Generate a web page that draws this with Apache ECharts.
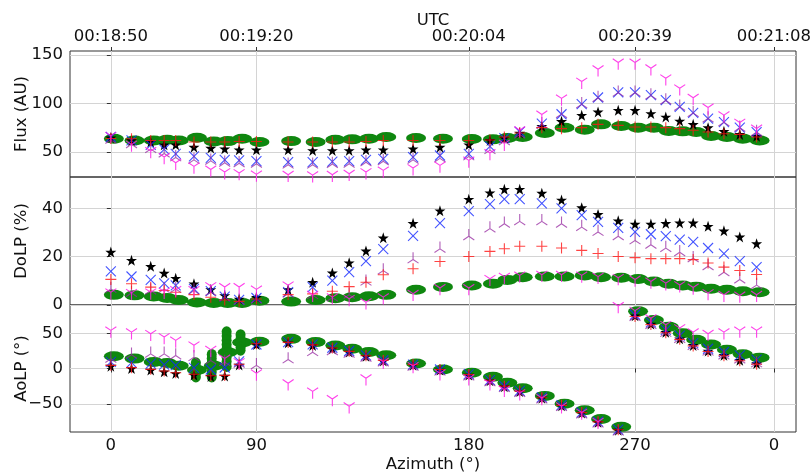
<!DOCTYPE html>
<html>
<head>
<meta charset="utf-8">
<title>Flux / DoLP / AoLP</title>
<script src="https://cdn.jsdelivr.net/npm/echarts@6/dist/echarts.min.js"></script>
<style>
  html, body { margin: 0; padding: 0; background: #fff; }
  #main { width: 811px; height: 472px; }
</style>
</head>
<body>
<div id="main"></div>
<script>
// time of each measurement, seconds after 00:18:50 UTC
var timeS = [0, 4.3, 8.3, 11.1, 13.5, 17.3, 20.8, 23.7, 26.7, 30.3, 36.9, 42.0, 46.1, 49.6, 53.1, 56.7, 62.9, 68.5,
             74.5, 78.9, 81.9, 85.1, 89.7, 93.8, 98.0, 101.4, 105.6, 109.1, 112.4, 115.5, 118.4, 121.2, 124.3, 127.6, 130.9, 134.4];

// tick positions (s) and their labels
var tickT = [0, 30.3, 74.5, 109.1, 138];
var azLabels = ['0', '90', '180', '270', '0'];
var utcLabels = ['00:18:50', '00:19:20', '00:20:04', '00:20:39', '00:21:08'];

// Flux (AU)
var fluxStar = [64.9, 62.1, 60.4, 57.6, 57.6, 55.2, 54.2, 53.5, 52.5, 52.5, 52.5, 51.8, 51.8, 51.8, 52.5, 52.5, 53.5, 55.2,
                57.6, 62.1, 64.5, 69.7, 76.6, 81.7, 87.9, 91.4, 93.1, 93.1, 89.7, 86.2, 82.1, 78.6, 75.2, 71.4, 68.3, 66.3];
var fluxX = [65.6, 62.1, 57.6, 52.8, 48.3, 45.6, 44.2, 42.1, 41.5, 40.8, 39.7, 39.7, 40.4, 40.8, 42.1, 43.2, 44.9, 46.6,
             48.3, 56, 64.5, 71, 79.3, 89, 99.3, 106.2, 111.4, 111.4, 108.6, 103.4, 96.6, 90.4, 84.5, 81, 75.2, 70.7];
var fluxTriUp = [64.5, 60, 55, 50.5, 46.5, 44, 43, 41, 40.5, 40, 39, 39, 39.7, 40, 41.5, 42.5, 44, 45.5,
                 47.5, 54, 63, 70, 80.5, 91, 101, 107.5, 113, 113, 110, 105, 98.5, 92, 86.5, 82.5, 77, 72.5];
var fluxTriDown = [65, 56, 49.4, 43.2, 37.3, 33.5, 30.4, 27.7, 26.7, 25.3, 25, 24.5, 25, 26, 27.7, 29.4, 31.8, 34.6,
                   39.7, 47.3, 57, 70.7, 86.9, 103.4, 120.7, 133.4, 140.3, 140.3, 134.4, 124.1, 113.8, 104.1, 94.1, 86.2, 78.6, 72.5];
var fluxRed = [64, 63.8, 62, 62, 62, 60.4, 60.4, 60.4, 61, 61, 60.4, 60.4, 60.4, 60.4, 61, 62, 62, 62,
               62, 62.5, 65.6, 69.7, 75.2, 74.2, 75.2, 78.6, 77.6, 75.9, 75.9, 75.2, 74.2, 72.5, 70.7, 69, 68.3, 65.6];
var fluxGreen = [63.8, 62, 62, 62.8, 62, 64.9, 61, 61.4, 63.8, 60.4, 61.4, 60.4, 62.8, 63.2, 63.8, 65.6, 64.5, 63.8,
                 63.5, 63.2, 64.5, 65.6, 69.7, 75.2, 73.1, 78.6, 76.9, 75.2, 75.2, 71.8, 71.4, 70.7, 66.6, 65.6, 63.8, 62];

// DoLP (%)
var dolpStar = [21.9, 18.5, 16, 13.2, 11.1, 8.8, 6.4, 3.9, 2.5, 3.2, 6.4, 9.4, 13.3, 17.5, 22.4, 27.8, 33.8, 39,
                43.8, 46.5, 47.9, 47.9, 46.3, 43.5, 40.3, 37.5, 34.9, 33.5, 33.5, 33.8, 34, 34, 32.6, 30.7, 28.2, 25.4];
var dolpX = [13.9, 11.8, 10.4, 9, 8.1, 6.7, 5.7, 3.5, 2.1, 2.9, 5.3, 7.4, 10.1, 13.6, 18.2, 23.1, 28.6, 33.9,
             38.9, 41.8, 43.8, 43.8, 42.1, 40, 37.2, 34.4, 31.9, 30.3, 29.3, 28.5, 27.1, 26.1, 23.6, 21.3, 18.2, 15.7];
var dolpTriUp = [7.4, 5.7, 6.7, 7.4, 7.4, 6.7, 6.2, 3.9, 2.5, 3, 5.5, 4.8, 3.8, 5, 10.4, 15, 19.6, 24,
                 29.2, 32.4, 34.4, 35.4, 35.4, 34.4, 33, 31, 29.2, 27.5, 25.7, 24.3, 22.6, 20.1, 16.8, 14.3, 11.3, 9];
var dolpTriDown = [4.5, 4.3, 4.5, 4.8, 5.5, 5.5, 7.1, 6.7, 6.7, 5.7, 7.4, 3.5, 2.5, 1.8, 0.4, 2.5, 3.9, 6.3,
                   6.3, 10.1, 11, 11.5, 11.8, 11.8, 11.5, 11, 10.5, 9.8, 9, 8.3, 7.5, 6.5, 4.2, 3.5, 3.2, 3.5];
var dolpRed = [10.6, 8.8, 7.4, 6, 5.3, 4.3, 3.2, 2.1, 1.5, 2.5, 4.3, 4.6, 5.7, 7.6, 9.4, 12.5, 15, 18,
               20.1, 22.2, 23.3, 24.3, 24.3, 23.6, 22.6, 21.3, 20.1, 19.6, 19.2, 19.2, 19.2, 18.8, 17.4, 15.7, 14.3, 12.6];
var dolpGreen = [4.2, 4, 3.5, 2.9, 2.1, 1, 0.8, 0.8, 0.8, 1.8, 1.4, 2.1, 2.8, 3.2, 3.6, 4.2, 6.3, 7.5,
                 8.1, 8.8, 10.4, 11.5, 11.8, 11.8, 12.2, 11.5, 11.3, 10.8, 9.7, 8.8, 8.1, 7.6, 6.7, 6.3, 5.7, 5.3];

// AoLP (°)
var aolpStar = [3.3, 0, -2.3, -4.7, -7, -9.3, -11.2, -10.8, 5, 34, 36.4, 32.7, 28, 23.4, 17.3, 10.7, 4.7, -2.3,
                -9.3, -17.3, -25.7, -32.7, -42, -52.8, -63.1, -76.2, -87.4, 74.8, 63, 51.4, 42, 32.7, 24.8, 18.7, 11.7, 7];
var aolpX = [9.3, 8.4, 7, 5.6, 4.7, 0.9, -1.4, 1.4, 10, 34, 37.4, 34.1, 29.4, 24.8, 18.7, 11.7, 5.6, -1.4,
             -7.9, -16.4, -24.8, -31.8, -41, -51.8, -62.1, -75.2, -86.5, 76.2, 65.4, 54.7, 46.7, 36, 28, 23.4, 18.7, 12.6];
var aolpTriUp = [16.4, 22, 23.3, 23.3, 21, 18.6, 14, 11.6, 9.3, 7, 15.4, 25.7, 27, 23.5, 17.8, 11, 5, -2,
                 -8.8, -17, -25.3, -32.3, -41.5, -52.3, -62.6, -75.7, -87, 75.5, 64.2, 53, 44.3, 34.3, 26.4, 21, 15.2, 9.8];
var aolpTriDown = [51.4, 49, 46.6, 42, 37.3, 30.3, 24.2, 11.6, 6.5, -9.4, -23.4, -35, -45.8, -56, -16.4, 7, 1, -9.3,
                   -16.4, -23.4, -32.7, -37.4, -44.4, -56, -65, -78, 86, 79.4, 68.7, 59.3, 54.7, 49, 46.7, 49, 51.4, 51.4];
var aolpRed = [4.5, 1.2, -1.2, -3.6, -6, -8.2, -10.3, -9.8, 6, 35, 37, 33.5, 29, 24.3, 18, 11.5, 5.5, -1.5,
               -8.5, -16.6, -25, -32, -41.4, -52.2, -62.5, -75.6, -86.8, 73.8, 62.2, 50.6, 41.3, 32, 24, 18, 11, 6.2];
var aolpGreen = [17.3, 14, 9.3, 7.9, 4, -2, 4, 23, 37, 38, 42, 37.4, 32.7, 28, 23.4, 18.7, 7, -1.4,
                 -6, -11.7, -20.1, -28, -38.8, -50, -59.3, -71.5, -82.7, 81, 68.7, 59.3, 50, 40.7, 34.1, 26.6, 20.1, 15.4];
// the green AoLP readings spread vertically around 90°
var aolpGreenSpreadT = [17.7, 17.7, 17.7, 17.7, 21.0, 21.0, 21.0, 21.0, 21.0, 21.0, 24.1, 24.1, 24.1, 24.1, 24.1, 24.1, 24.1, 24.1, 24.1, 27.0, 27.0, 27.0, 27.0, 27.0];
var aolpGreenSpreadV = [8, 2, -6, -12, 20, 14, 8, 2, -5, -12, 52, 46, 40, 34, 28, 22, 16, 10, 3, 48, 42, 36, 30, 26];

var XMIN = -8.5, XMAX = 142.6;
var FONT = 'DejaVu Sans';
var FS = 16.5;
var GREEN = '#0f870f';

var STAR = 'path://M50,0 L61.8,35.3 L99,35.3 L69,57.2 L80.4,92.7 L50,70.8 L19.6,92.7 L31,57.2 L1,35.3 L38.2,35.3 Z';
var CROSS = 'path://M0,0 L10,10 M10,0 L0,10';
var PLUS = 'path://M5,0 L5,10 M0,5 L10,5';
var TRI_DOWN = 'path://M5,5 L5,10 M5,5 L0.67,2.5 M5,5 L9.33,2.5';
var TRI_UP = 'path://M5,5 L5,0 M5,5 L0.67,7.5 M5,5 L9.33,7.5';
var BLOB = 'path://M0,5 A10,5 0 1 1 20,5 A10,5 0 1 1 0,5 Z';

function pts(vals) {
  return timeS.map(function (t, k) { return [t, vals[k]]; });
}
function minus(v) { return String(v).replace('-', '\u2212'); }

var myChart = echarts.init(document.getElementById('main'), null, { renderer: 'canvas' });

var grids = [
  { left: 70, right: 15, top: 51, height: 126 },
  { left: 70, right: 15, top: 177, height: 128 },
  { left: 70, right: 15, top: 305, height: 127 }
];
grids.forEach(function (g) {
  g.show = true; g.borderColor = '#333'; g.borderWidth = 1;
  g.backgroundColor = 'transparent'; g.containLabel = false; g.outerBoundsMode = 'none';
});

var gridLine = { show: true, lineStyle: { color: '#d4d4d4', width: 1 } };
var nameStyle = { fontFamily: FONT, fontSize: FS, color: '#111' };

var xAxes = [0, 1, 2].map(function (i) {
  return {
    type: 'value', gridIndex: i, min: XMIN, max: XMAX,
    axisLine: { show: false },
    axisTick: { show: i === 2, customValues: tickT, length: 4, lineStyle: { color: '#333' } },
    axisLabel: {
      show: i === 2, customValues: tickT, margin: 5,
      fontFamily: FONT, fontSize: FS, color: '#111',
      formatter: function (v) { return azLabels[tickT.indexOf(v)]; }
    },
    splitLine: gridLine,
    name: i === 2 ? 'Azimuth (°)' : '',
    nameLocation: 'middle', nameGap: 24, nameMoveOverlap: false,
    nameTextStyle: nameStyle
  };
});
xAxes.push({
  type: 'value', gridIndex: 0, position: 'top', min: XMIN, max: XMAX,
  axisLine: { show: false },
  axisTick: { show: true, customValues: tickT, length: 4, lineStyle: { color: '#333' } },
  axisLabel: {
    show: true, customValues: tickT, margin: 6,
    fontFamily: FONT, fontSize: FS, color: '#111',
    formatter: function (v) { return utcLabels[tickT.indexOf(v)]; }
  },
  splitLine: { show: false },
  name: 'UTC', nameLocation: 'middle', nameGap: 22, nameMoveOverlap: false,
  nameTextStyle: nameStyle
});

var yDefs = [
  { name: 'Flux (AU)', min: 24.5, max: 154, ticks: [50, 100, 150] },
  { name: 'DoLP (%)', min: 0, max: 53, ticks: [0, 20, 40] },
  { name: 'AoLP (°)', min: -90, max: 90, ticks: [-50, 0, 50] }
];
var yAxes = yDefs.map(function (d, i) {
  return {
    type: 'value', gridIndex: i, min: d.min, max: d.max,
    axisLine: { show: false },
    axisTick: { show: true, customValues: d.ticks, length: 4, lineStyle: { color: '#333' } },
    axisLabel: {
      customValues: d.ticks, margin: 7,
      fontFamily: FONT, fontSize: FS, color: '#111', formatter: minus
    },
    splitLine: gridLine,
    name: d.name, nameLocation: 'middle', nameGap: 40, nameMoveOverlap: false,
    nameTextStyle: nameStyle
  };
});

var panels = [
  { star: fluxStar, x: fluxX, up: fluxTriUp, down: fluxTriDown, red: fluxRed, green: fluxGreen },
  { star: dolpStar, x: dolpX, up: dolpTriUp, down: dolpTriDown, red: dolpRed, green: dolpGreen },
  { star: aolpStar, x: aolpX, up: aolpTriUp, down: aolpTriDown, red: aolpRed, green: aolpGreen }
];

function lineMark(sym, color, size) {
  return {
    symbol: sym, symbolSize: size,
    itemStyle: { color: 'none', borderColor: color, borderWidth: 1.1, opacity: 1 }
  };
}

var series = [];
panels.forEach(function (p, i) {
  var base = { type: 'scatter', xAxisIndex: i, yAxisIndex: i, silent: true, animation: false };
  series.push(Object.assign({}, base, {
    name: 'green', data: pts(p.green), symbol: BLOB, symbolSize: [20, 10], symbolOffset: [3, 0],
    itemStyle: { color: GREEN, opacity: 1 }, z: 1
  }));
  series.push(Object.assign({}, base, {
    name: 'star', data: pts(p.star), symbol: STAR, symbolSize: 11,
    itemStyle: { color: '#000', opacity: 1 }, z: 2
  }));
  series.push(Object.assign({}, base, lineMark(CROSS, 'rgba(20,40,255,0.8)', 10), {
    name: 'x', data: pts(p.x), z: 3
  }));
  series.push(Object.assign({}, base, lineMark(TRI_UP, 'rgba(150,40,160,0.75)', 11), {
    name: 'triUp', data: pts(p.up), z: 4
  }));
  series.push(Object.assign({}, base, lineMark(PLUS, 'rgba(255,20,20,0.8)', 11), {
    name: 'red', data: pts(p.red), z: 5
  }));
  series.push(Object.assign({}, base, lineMark(TRI_DOWN, 'rgba(255,30,230,0.85)', 11), {
    name: 'triDown', data: pts(p.down), z: 6
  }));
});
series.push({
  type: 'scatter', xAxisIndex: 2, yAxisIndex: 2, silent: true, animation: false,
  name: 'green spread', z: 1,
  data: aolpGreenSpreadT.map(function (t, k) { return [t, aolpGreenSpreadV[k]]; }),
  symbol: BLOB, symbolSize: [10, 11], itemStyle: { color: GREEN, opacity: 1 }
});

var option = {
  backgroundColor: '#fff',
  animation: false,
  grid: grids,
  xAxis: xAxes,
  yAxis: yAxes,
  series: series
};
myChart.setOption(option);
</script>
</body>
</html>
